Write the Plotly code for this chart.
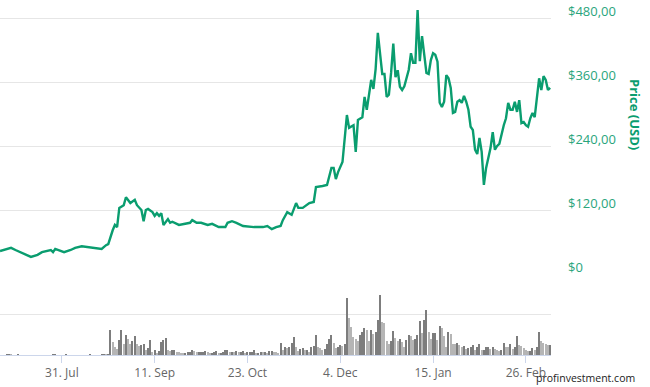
import plotly.graph_objects as go
import pandas as pd

DATES = [
    "2017-07-03", "2017-07-08", "2017-07-10", "2017-07-12", "2017-07-14", "2017-07-17", "2017-07-20",
    "2017-07-22", "2017-07-26", "2017-07-27", "2017-07-28", "2017-08-01", "2017-08-04", "2017-08-06",
    "2017-08-09", "2017-08-11", "2017-08-14", "2017-08-18", "2017-08-20", "2017-08-21", "2017-08-23",
    "2017-08-24", "2017-08-25", "2017-08-26", "2017-08-28", "2017-08-29", "2017-08-31", "2017-09-02",
    "2017-09-03", "2017-09-05", "2017-09-06", "2017-09-07", "2017-09-08", "2017-09-10", "2017-09-11",
    "2017-09-12", "2017-09-13", "2017-09-14", "2017-09-15", "2017-09-17", "2017-09-18", "2017-09-19",
    "2017-09-22", "2017-09-25", "2017-09-27", "2017-09-28", "2017-09-30", "2017-10-02", "2017-10-05",
    "2017-10-07", "2017-10-10", "2017-10-13", "2017-10-14", "2017-10-16", "2017-10-18", "2017-10-21",
    "2017-10-24", "2017-10-26", "2017-10-30", "2017-11-01", "2017-11-03", "2017-11-05", "2017-11-07",
    "2017-11-08", "2017-11-10", "2017-11-12", "2017-11-14", "2017-11-15", "2017-11-17", "2017-11-19",
    "2017-11-20", "2017-11-22", "2017-11-23", "2017-11-26", "2017-11-28", "2017-11-30", "2017-12-01",
    "2017-12-02", "2017-12-03", "2017-12-05", "2017-12-07", "2017-12-08", "2017-12-10", "2017-12-11",
    "2017-12-12", "2017-12-14", "2017-12-15", "2017-12-16", "2017-12-18", "2017-12-19", "2017-12-20",
    "2017-12-21", "2017-12-23", "2017-12-24", "2017-12-25", "2017-12-26", "2017-12-27", "2017-12-28",
    "2017-12-29", "2017-12-30", "2017-12-31", "2018-01-01", "2018-01-02", "2018-01-04", "2018-01-05",
    "2018-01-06", "2018-01-07", "2018-01-08", "2018-01-09", "2018-01-10", "2018-01-12", "2018-01-13",
    "2018-01-14", "2018-01-15", "2018-01-16", "2018-01-17", "2018-01-18", "2018-01-19", "2018-01-20",
    "2018-01-21", "2018-01-22", "2018-01-23", "2018-01-24", "2018-01-25", "2018-01-26", "2018-01-27",
    "2018-01-28", "2018-01-29", "2018-01-30", "2018-01-31", "2018-02-01", "2018-02-02", "2018-02-03",
    "2018-02-04", "2018-02-05", "2018-02-06", "2018-02-07", "2018-02-08", "2018-02-09", "2018-02-10",
    "2018-02-11", "2018-02-12", "2018-02-13", "2018-02-14", "2018-02-16", "2018-02-17", "2018-02-18",
    "2018-02-19", "2018-02-20", "2018-02-21", "2018-02-22", "2018-02-23", "2018-02-24", "2018-02-25",
    "2018-02-26", "2018-02-27", "2018-02-28", "2018-03-01", "2018-03-02", "2018-03-03", "2018-03-04",
    "2018-03-05", "2018-03-06", "2018-03-07", "2018-03-08", "2018-03-09",
]

PRICES = [
    43, 49, 45, 41, 37, 32, 36,
    41, 45, 41, 47, 41, 45, 49,
    52, 51, 49, 47, 54, 56, 82,
    92, 88, 124, 129, 144, 133, 139,
    129, 120, 99, 120, 122, 116, 109,
    114, 109, 114, 92, 103, 96, 98,
    92, 94, 96, 101, 96, 96, 92,
    94, 88, 88, 96, 99, 96, 90,
    88, 88, 88, 90, 84, 88, 90,
    101, 116, 111, 133, 124, 124, 129,
    133, 135, 163, 165, 167, 199, 199,
    178, 191, 210, 298, 274, 279, 229,
    289, 294, 332, 308, 364, 347, 384,
    452, 375, 375, 332, 336, 377, 432,
    369, 382, 351, 345, 352, 383, 414,
    396, 396, 495, 399, 446, 377, 375,
    401, 414, 411, 398, 321, 313, 323,
    373, 367, 349, 302, 304, 323, 326,
    321, 334, 323, 308, 276, 270, 233,
    225, 255, 229, 167, 199, 219, 236,
    266, 233, 240, 244, 279, 292, 321,
    308, 308, 323, 304, 326, 283, 285,
    279, 276, 292, 302, 294, 332, 367,
    345, 371, 364, 345, 349,
]

# daily volume (arbitrary units, millions), starting 2017-07-03
VOLUME_START = "2017-07-03"
VOLUMES = [
    0, 0, 0, 3, 4, 3, 0, 0, 3, 0,
    0, 0, 0, 0, 0, 0, 0, 0, 0, 0,
    0, 0, 0, 0, 3, 3, 0, 0, 0, 0,
    3, 0, 0, 0, 0, 0, 0, 0, 0, 0,
    0, 2, 0, 0, 0, 0, 3, 4, 2, 4,
    125, 63, 38, 30, 75, 125, 55, 100, 80, 55,
    67, 95, 55, 45, 47, 55, 25, 33, 75, 13,
    25, 12, 20, 62, 72, 82, 25, 20, 25, 25,
    17, 13,
    12, 8, 8, 13, 17, 25, 18, 15, 15, 15, 17, 20, 13,
    8, 10, 13, 20, 10, 12, 17, 23, 25, 15, 17, 13, 20,
    13, 15, 20, 8, 13, 15, 15, 25, 10, 12, 15, 13, 15,
    12, 18, 20, 17, 15, 12, 58, 25, 42, 37, 38, 58, 87,
    42, 20, 28, 33, 25, 25, 17, 42, 45, 97, 42,
    37, 25, 30, 53, 80, 100, 58, 37, 42, 50,
    45, 53, 280, 185, 137, 87, 80, 67, 100, 113,
    133, 122, 70, 125, 105, 113, 175, 295, 163, 158,
    70, 53, 70, 120, 83, 67, 78, 62, 42, 75,
    98, 95, 75, 78, 97, 167, 108, 175, 220, 113,
    78, 108, 108, 75, 142, 133, 92, 42, 113, 105,
    55, 53, 58, 47, 42, 45, 30, 33, 38,
    50, 25, 38, 53, 25, 25, 42, 42, 28,
    42, 28, 25, 20, 25, 58, 42, 38, 53, 28,
    38, 92, 50, 45, 37, 25, 20, 20, 37,
    25, 42, 113, 70, 58, 55, 47, 47,
]

TICK_DATES = ["2017-07-31", "2017-09-11", "2017-10-23", "2017-12-04", "2018-01-15", "2018-02-26"]
TICK_LABELS = ["31. Jul", "11. Sep", "23. Oct", "4. Dec", "15. Jan", "26. Feb"]
PRICE_TICKS = [0, 120, 240, 360, 480]
PRICE_TICK_LABELS = ["$0", "$120,00", "$240,00", "$360,00", "$480,00"]
AXIS_TITLE = "Price (USD)"
WATERMARK = "profinvestment.com"

GREEN = "#0a9d6f"
LABEL_GREEN = "#2aa57c"

vol_dates = pd.date_range(VOLUME_START, periods=len(VOLUMES), freq="D")
vol_colors = ["#7d7d7d" if i > 0 and VOLUMES[i] >= VOLUMES[i - 1] else "#b5b5b5"
              for i in range(len(VOLUMES))]

fig = go.Figure()
fig.add_trace(go.Bar(
    x=vol_dates, y=VOLUMES, xaxis="x", yaxis="y2",
    marker=dict(color=vol_colors, line=dict(width=0)),
    width=0.55 * 86400000, showlegend=False, hoverinfo="skip",
))
fig.add_trace(go.Scatter(
    x=pd.to_datetime(DATES), y=PRICES, xaxis="x", yaxis="y",
    mode="lines", line=dict(color=GREEN, width=2.4), showlegend=False,
))

price_split = 81 / 355

fig.update_layout(
    width=650, height=387,
    margin=dict(l=0, r=99, t=0, b=32),
    paper_bgcolor="white", plot_bgcolor="white",
    font=dict(family="Open Sans, sans-serif"),
    bargap=0,
    xaxis=dict(
        anchor="y2", type="date",
        range=["2017-07-03", "2018-03-09 09:00"],
        tickvals=TICK_DATES, ticktext=TICK_LABELS,
        tickfont=dict(size=12, color="#666666"),
        showgrid=False, showline=True, linecolor="#ccd6eb", linewidth=1,
        ticks="outside", ticklen=7, tickcolor="#ccd6eb",
        zeroline=False, fixedrange=True,
    ),
    yaxis=dict(
        domain=[price_split, 1], range=[0, 513.75], side="right", anchor="x",
        tickvals=PRICE_TICKS, showticklabels=False,
        showgrid=True, gridcolor="#e6e6e6", gridwidth=1,
        zeroline=False, showline=False,
    ),
    yaxis2=dict(
        domain=[0, price_split], range=[0, 400], side="right", anchor="x",
        tickvals=[200], showticklabels=False,
        showgrid=True, gridcolor="#e6e6e6", gridwidth=1,
        zeroline=False, showline=False,
    ),
)

for v, t in zip(PRICE_TICKS, PRICE_TICK_LABELS):
    fig.add_annotation(
        x=1, xref="paper", y=v, yref="y", text=t, showarrow=False,
        xanchor="left", yanchor="middle", xshift=15, yshift=7,
        font=dict(size=13, color=LABEL_GREEN, family="Open Sans, sans-serif"),
    )

fig.add_annotation(
    x=1, xref="paper", y=300, yref="y", text="<b>" + AXIS_TITLE + "</b>",
    showarrow=False, textangle=90, xanchor="center", yanchor="middle", xshift=84,
    font=dict(size=13, color=GREEN, family="Open Sans, sans-serif"),
)

fig.add_annotation(
    x=1, xref="paper", y=0, yref="paper", text=WATERMARK, showarrow=False,
    xanchor="right", yanchor="middle", xshift=86, yshift=-23,
    font=dict(size=10.5, color="#222222", family="Open Sans, sans-serif"),
)

fig.write_html(
    "out.html",
    config={"displayModeBar": False},
    post_script="document.body.style.margin='0px';document.body.style.overflow='hidden';",
)
